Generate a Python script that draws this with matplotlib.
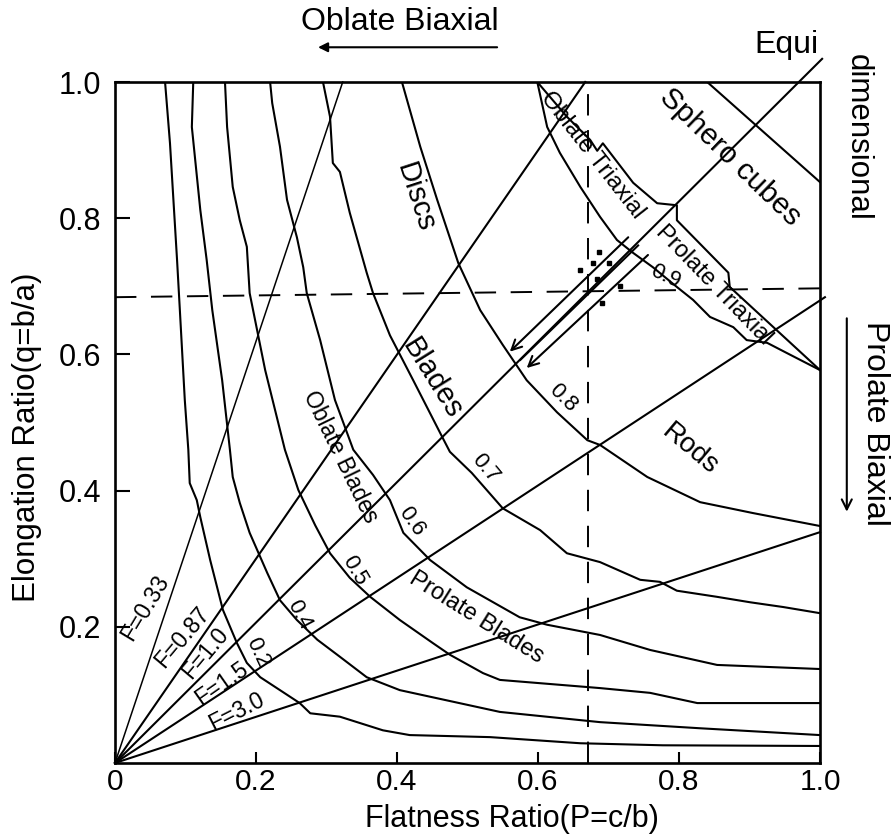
import matplotlib
matplotlib.use('Agg')
import matplotlib.pyplot as plt

plt.rcParams['font.family'] = ['Liberation Sans', 'DejaVu Sans']

# ---------------- data (P = c/b flatness, q = b/a elongation) ----------------
c02_p = [0.071, 0.078, 0.088, 0.092, 0.099, 0.104, 0.106, 0.116, 0.121, 0.135, 0.153, 0.173,
         0.187, 0.206, 0.234, 0.262, 0.277, 0.319, 0.380, 0.418, 0.532, 0.660, 0.777, 1.0]
c02_q = [1.0, 0.910, 0.739, 0.665, 0.533, 0.460, 0.411, 0.386, 0.361, 0.298, 0.225, 0.176,
         0.147, 0.126, 0.107, 0.088, 0.073, 0.068, 0.048, 0.041, 0.038, 0.029, 0.026, 0.025]
c04_p = [0.111, 0.109, 0.121, 0.130, 0.138, 0.152, 0.163, 0.167, 0.177, 0.191, 0.216, 0.234,
         0.258, 0.287, 0.319, 0.357, 0.404, 0.546, 0.688, 0.830, 1.0]
c04_q = [1.0, 0.934, 0.812, 0.739, 0.665, 0.562, 0.460, 0.420, 0.382, 0.338, 0.279, 0.239,
         0.210, 0.181, 0.156, 0.126, 0.107, 0.075, 0.060, 0.051, 0.041]
c05_p = [0.156, 0.159, 0.167, 0.177, 0.187, 0.191, 0.213, 0.241, 0.260, 0.284, 0.305, 0.333,
         0.362, 0.404, 0.451, 0.475, 0.522, 0.546, 0.688, 0.759, 0.826, 1.0]
c05_q = [1.0, 0.934, 0.846, 0.797, 0.758, 0.690, 0.577, 0.460, 0.401, 0.349, 0.308, 0.272,
         0.244, 0.210, 0.176, 0.159, 0.132, 0.122, 0.110, 0.103, 0.088, 0.088]
c06_p = [0.220, 0.223, 0.234, 0.244, 0.258, 0.267, 0.272, 0.291, 0.312, 0.338, 0.366, 0.390,
         0.409, 0.447, 0.499, 0.574, 0.613, 0.688, 0.759, 0.854, 1.0]
c06_q = [1.0, 0.969, 0.905, 0.827, 0.772, 0.728, 0.690, 0.621, 0.533, 0.460, 0.423, 0.386,
         0.338, 0.298, 0.258, 0.214, 0.203, 0.188, 0.166, 0.144, 0.138]
c07_p = [0.295, 0.305, 0.309, 0.319, 0.333, 0.357, 0.366, 0.390, 0.423, 0.465, 0.475, 0.506,
         0.550, 0.603, 0.641, 0.688, 0.745, 0.773, 0.797, 0.854, 0.901, 0.948, 1.0]
c07_q = [1.0, 0.949, 0.881, 0.868, 0.808, 0.720, 0.690, 0.628, 0.562, 0.477, 0.457, 0.426,
         0.374, 0.342, 0.308, 0.295, 0.269, 0.266, 0.253, 0.244, 0.236, 0.229, 0.220]
c08_p = [0.407, 0.433, 0.457, 0.487, 0.518, 0.550, 0.584, 0.627, 0.670, 0.688, 0.755, 0.830,
         0.905, 1.0]
c08_q = [1.0, 0.905, 0.827, 0.734, 0.665, 0.614, 0.562, 0.515, 0.474, 0.467, 0.420, 0.383,
         0.367, 0.348]
c09_p = [0.599, 0.613, 0.631, 0.660, 0.688, 0.712, 0.735, 0.763, 0.797, 0.820, 0.844, 0.877,
         0.896, 0.925, 0.953, 1.0]
c09_q = [1.0, 0.934, 0.896, 0.846, 0.802, 0.768, 0.749, 0.728, 0.699, 0.680, 0.655, 0.640,
         0.621, 0.617, 0.602, 0.577]
triax_p = [0.599, 0.641, 0.674, 0.684, 0.692, 0.735, 0.769, 0.797, 0.797, 0.870, 0.872, 1.0]
triax_q = [1.0, 0.949, 0.915, 0.899, 0.910, 0.852, 0.822, 0.819, 0.797, 0.720, 0.699, 0.577]
sphero_p = [0.840, 1.0]
sphero_q = [1.0, 0.853]

curve_p = [c02_p, c04_p, c05_p, c06_p, c07_p, c08_p, c09_p]
curve_q = [c02_q, c04_q, c05_q, c06_q, c07_q, c08_q, c09_q]

# radial F lines from origin (end points)
ray_names = ['F=0.33', 'F=0.87', 'F=1.0', 'F=1.5', 'F=3.0']
ray_p_end = [0.323, 0.667, 1.003, 1.007, 1.0]
ray_q_end = [1.0, 1.0, 1.034, 0.684, 0.339]

# dashed reference lines
vref_p = 0.671
href_p = [0.0, 1.0]
href_q = [0.684, 0.697]

# sample points
sample_p = [0.687, 0.678, 0.701, 0.660, 0.684, 0.716, 0.691]
sample_q = [0.750, 0.734, 0.734, 0.724, 0.711, 0.700, 0.675]

# trend arrows (start -> end)
trend_start_p = [0.728, 0.756]
trend_start_q = [0.772, 0.746]
trend_end_p = [0.560, 0.584]
trend_end_q = [0.604, 0.580]
mid_p = [0.742, 0.575]
mid_q = [0.760, 0.592]

xticks = [0, 0.2, 0.4, 0.6, 0.8, 1.0]
xticklabels = ['0', '0.2', '0.4', '0.6', '0.8', '1.0']
yticks = [0.2, 0.4, 0.6, 0.8, 1.0]
yticklabels = ['0.2', '0.4', '0.6', '0.8', '1.0']

# ---------------- figure ----------------
W, H = 892, 835
fig = plt.figure(figsize=(W / 100, H / 100), dpi=100)
ax = fig.add_axes([115 / W, 1 - 763 / H, 705 / W, 681 / H])
ax.set_xlim(0, 1)
ax.set_ylim(0, 1)

lw = 1.5
for p, q in zip(curve_p, curve_q):
    ax.plot(p, q, color='black', lw=lw, solid_joinstyle='round')
ax.plot(triax_p, triax_q, color='black', lw=lw)
ax.plot(sphero_p, sphero_q, color='black', lw=lw)

for i, (pe, qe) in enumerate(zip(ray_p_end, ray_q_end)):
    ax.plot([0, pe], [0, qe], color='black', lw=1.1 if i == 0 else lw, clip_on=False)

ax.plot([vref_p, vref_p], [0, 1], color='black', lw=1.4, linestyle=(0, (11, 7.5)))
ax.plot(href_p, href_q, color='black', lw=1.4, linestyle=(0, (11, 7.5)))

ax.plot(sample_p, sample_q, 's', color='black', markersize=3.5, linestyle='none')

for sp, sq, ep, eq in zip(trend_start_p, trend_start_q, trend_end_p, trend_end_q):
    ax.annotate('', xy=(ep, eq), xytext=(sp, sq),
                arrowprops=dict(arrowstyle='->', color='black', lw=1.5,
                                mutation_scale=18, shrinkA=0, shrinkB=0))
ax.plot([mid_p[0], mid_p[1]], [mid_q[0], mid_q[1]], color='black', lw=1.5)

# spines / ticks
for s in ax.spines.values():
    s.set_linewidth(1.9)
ax.set_xticks(xticks)
ax.set_xticklabels(xticklabels)
ax.set_yticks(yticks)
ax.set_yticklabels(yticklabels)
ax.tick_params(axis='x', direction='in', length=8, width=1.5, labelsize=21.5, pad=3.5)
ax.tick_params(axis='y', direction='in', length=11, width=1.5, labelsize=22, pad=10)

ax.text(0.563, -0.0815, 'Flatness Ratio(P=c/b)', transform=ax.transAxes,
        ha='center', va='center', fontsize=22)
ax.text(-0.125, 0.479, 'Elongation Ratio(q=b/a)', transform=ax.transAxes,
        ha='center', va='center', rotation=90, fontsize=22.5)

# outside labels
ax.text(0.404, 1.088, 'Oblate Biaxial', ha='center', va='center', fontsize=23, clip_on=False)
ax.annotate('', xy=(0.288, 1.051), xytext=(0.542, 1.051), annotation_clip=False,
            arrowprops=dict(arrowstyle='-|>', color='black', lw=1.5, mutation_scale=14,
                            shrinkA=0, shrinkB=0))
ax.text(0.953, 1.054, 'Equi', ha='center', va='center', fontsize=23, clip_on=False)
ax.text(1.054, 0.919, 'dimensional', ha='center', va='center', rotation=-90, fontsize=22.5,
        clip_on=False)
ax.text(1.078, 0.499, 'Prolate Biaxial', ha='center', va='center', rotation=-90, fontsize=23,
        clip_on=False)
ax.annotate('', xy=(1.038, 0.369), xytext=(1.038, 0.653), annotation_clip=False,
            arrowprops=dict(arrowstyle='->', color='black', lw=1.5, mutation_scale=18,
                            shrinkA=0, shrinkB=0))

# region labels
ax.text(0.872, 0.890, 'Sphero cubes', rotation=-44, ha='center', va='center', fontsize=21.5)
ax.text(0.677, 0.893, 'Oblate Triaxial', rotation=-52, ha='center', va='center', fontsize=17.5)
ax.text(0.849, 0.702, 'Prolate Triaxial', rotation=-46, ha='center', va='center', fontsize=17)
ax.text(0.426, 0.831, 'Discs', rotation=-72, ha='center', va='center', fontsize=21)
ax.text(0.450, 0.565, 'Blades', rotation=-58, ha='center', va='center', fontsize=21)
ax.text(0.320, 0.450, 'Oblate Blades', rotation=-64, ha='center', va='center', fontsize=16.5)
ax.text(0.513, 0.214, 'Prolate Blades', rotation=-32, ha='center', va='center', fontsize=17)
ax.text(0.816, 0.460, 'Rods', rotation=-40, ha='center', va='center', fontsize=20)

# curve value labels
lab_txt = ['0.2', '0.4', '0.5', '0.6', '0.7', '0.8', '0.9']
lab_p = [0.203, 0.262, 0.340, 0.421, 0.525, 0.635, 0.780]
lab_q = [0.162, 0.217, 0.283, 0.354, 0.433, 0.536, 0.715]
lab_rot = [-65, -62, -60, -55, -50, -45, -25]
for t, p, q, r in zip(lab_txt, lab_p, lab_q, lab_rot):
    ax.text(p, q, t, rotation=r, ha='center', va='center', fontsize=16)

# F labels
f_p = [0.043, 0.096, 0.128, 0.152, 0.173]
f_q = [0.228, 0.184, 0.162, 0.117, 0.075]
f_rot = [59, 50, 50, 35, 27]
for t, p, q, r in zip(ray_names, f_p, f_q, f_rot):
    ax.text(p, q, t, rotation=r, ha='center', va='center', fontsize=16.5)

fig.savefig('out.png', dpi=100, facecolor='white')
